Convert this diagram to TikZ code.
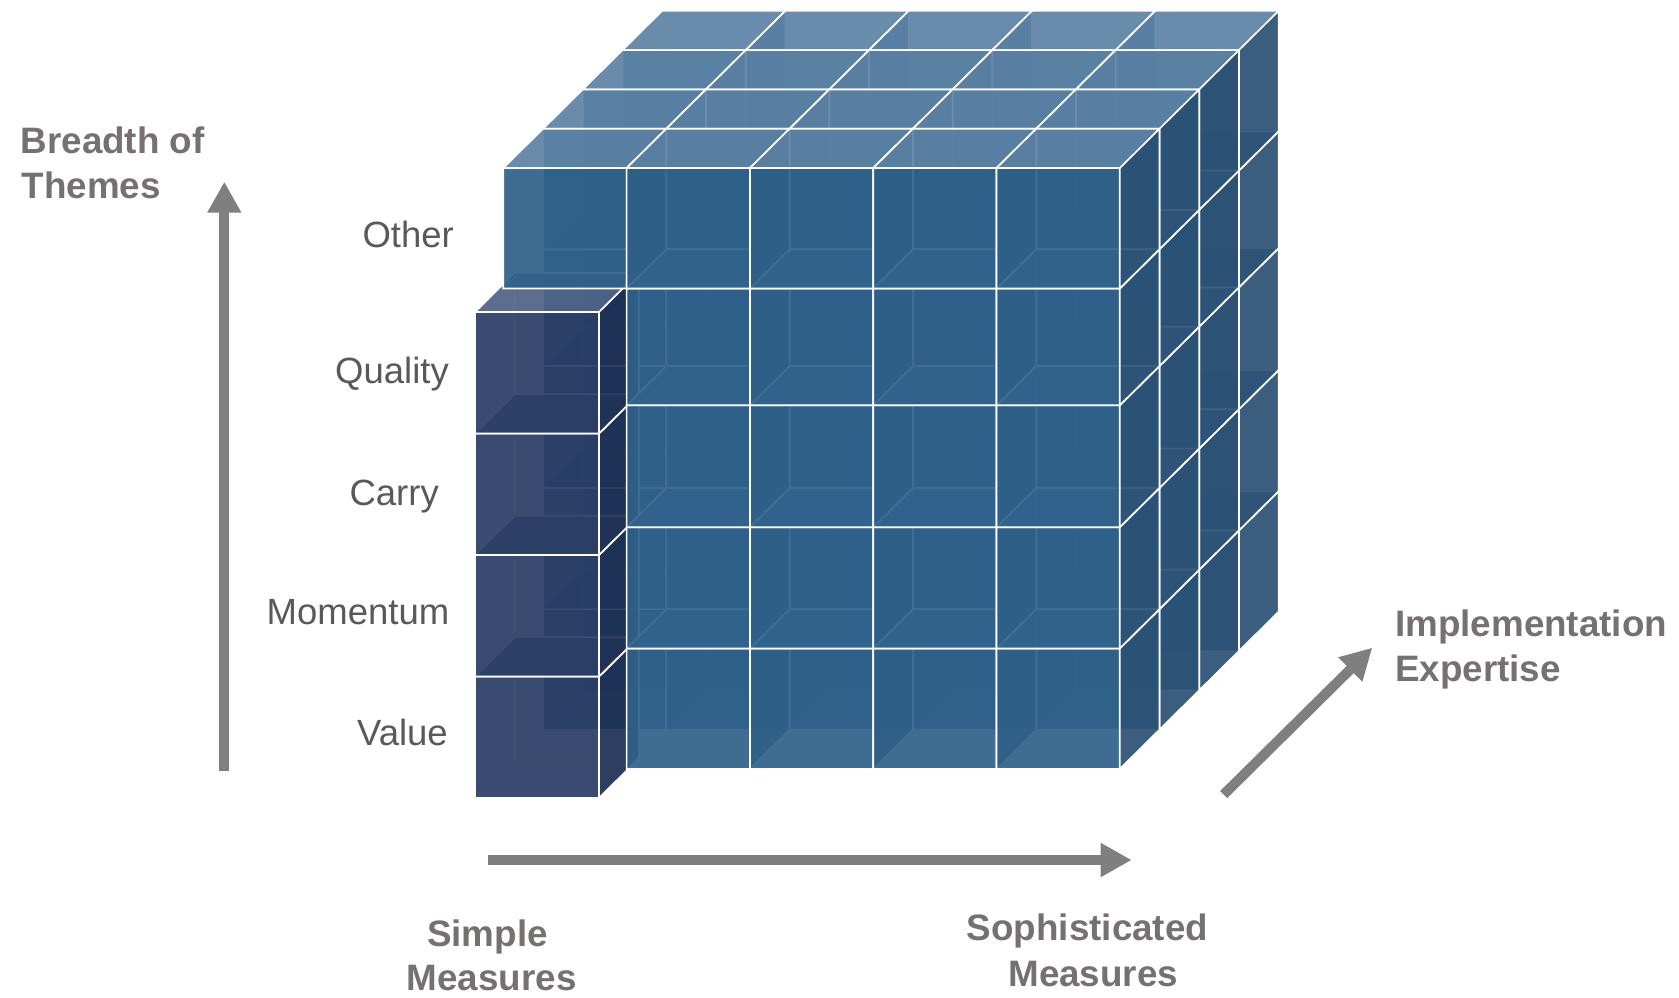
\documentclass[tikz,border=0pt]{standalone}
\usepackage{fontspec}
\setmainfont{Liberation Sans}
\usetikzlibrary{arrows.meta}

% face colours of the translucent blocks
\definecolor{bfront}{HTML}{2E6089}
\definecolor{btop}{HTML}{5E84A6}
\definecolor{bright}{HTML}{2A4F73}
\definecolor{bback}{HTML}{3A6A94}
\definecolor{nfront}{HTML}{283C64}
\definecolor{ntop}{HTML}{516388}
\definecolor{nright}{HTML}{1C2E52}
\definecolor{nback}{HTML}{2A3C66}
\definecolor{axisgray}{HTML}{7F7F7F}
\definecolor{labelgray}{HTML}{595959}
\definecolor{titlegray}{HTML}{767171}

% oblique depth vector of one block (screen units, y pointing down)
\def\dpx{39.7}
\def\dpy{-39.3}

% one translucent block: front-top-left x, y, width, height, palette
\newcommand\boxcube[5]{%
  \pgfmathsetmacro\qxa{#1}\pgfmathsetmacro\qya{#2}%
  \pgfmathsetmacro\qxb{#1+#3}\pgfmathsetmacro\qyb{#2+#4}%
  \pgfmathsetmacro\qxc{\qxa+\dpx}\pgfmathsetmacro\qxd{\qxb+\dpx}%
  \pgfmathsetmacro\qyc{\qya+\dpy}\pgfmathsetmacro\qyd{\qyb+\dpy}%
  \coordinate (f1) at (\qxa,\qya); \coordinate (f2) at (\qxb,\qya);
  \coordinate (f3) at (\qxb,\qyb); \coordinate (f4) at (\qxa,\qyb);
  \coordinate (b1) at (\qxc,\qyc); \coordinate (b2) at (\qxd,\qyc);
  \coordinate (b3) at (\qxd,\qyd); \coordinate (b4) at (\qxc,\qyd);
  % far faces
  \fill[#5 back] (b1) -- (b2) -- (b3) -- (b4) -- cycle;
  \fill[#5 back] (f1) -- (b1) -- (b4) -- (f4) -- cycle;
  \fill[#5 back] (f4) -- (f3) -- (b3) -- (b4) -- cycle;
  \draw[hidden edge] (b1) -- (b4) -- (b3) (f4) -- (b4);
  % near faces
  \fill[#5 right] (f2) -- (b2) -- (b3) -- (f3) -- cycle;
  \fill[#5 top] (f1) -- (f2) -- (b2) -- (b1) -- cycle;
  \fill[#5 front] (f1) -- (f2) -- (f3) -- (f4) -- cycle;
  \draw[edge] (f1) -- (f2) -- (f3) -- (f4) -- cycle
              (f1) -- (b1) -- (b2) -- (b3) -- (f3) (f2) -- (b2);
}

\tikzset{
  blue back/.style={fill=bback, fill opacity=0.35},
  blue right/.style={fill=bright, fill opacity=0.88},
  blue top/.style={fill=btop, fill opacity=0.88},
  blue front/.style={fill=bfront, fill opacity=0.88},
  navy back/.style={fill=nback, fill opacity=0.35},
  navy right/.style={fill=nright, fill opacity=0.88},
  navy top/.style={fill=ntop, fill opacity=0.88},
  navy front/.style={fill=nfront, fill opacity=0.88},
  hidden edge/.style={draw=white, draw opacity=0.35, line width=1pt},
  edge/.style={draw=white, line width=1.7pt, line join=miter},
  axisarrow/.style={draw=axisgray, line width=10pt,
    -{Triangle[length=31pt,width=32pt]}},
  rowlabel/.style={anchor=base east, inner sep=0pt, text=labelgray,
    font=\fontsize{36.5}{44}\selectfont},
  axislabel/.style={inner sep=0pt, text=titlegray,
    font=\fontsize{36.8}{45}\selectfont\bfseries},
}

\begin{document}
\begin{tikzpicture}[x=1pt,y=-1pt]
\useasboundingbox (0,0) rectangle (1679,997);

% rear layers of the block, far to near
\foreach \L in {3,2,1}{
  \foreach \r/\yt/\hh in {5/648.4/120.6, 4/527.2/121.2, 3/405.3/121.9,
                          2/288.5/116.8, 1/168/120.5}{
    \foreach \c in {0,...,4}{
      \boxcube{503.3+\c*123.3+\L*\dpx}{\yt+\L*\dpy}{123.3}{\hh}{blue}
    }
  }
}

% column of simple measures, pulled out in front
\foreach \yt in {676.5, 555, 433.5, 312}{
  \boxcube{475}{\yt}{124}{121.5}{navy}
}

% front layer of the block
\foreach \r/\yt/\hh in {5/648.4/120.6, 4/527.2/121.2, 3/405.3/121.9,
                        2/288.5/116.8, 1/168/120.5}{
  \foreach \c in {0,...,4}{
    \pgfmathtruncatemacro\omitcell{(\c==0)&&(\r>1)}
    \ifnum\omitcell=0
      \boxcube{503.3+\c*123.3}{\yt}{123.3}{\hh}{blue}
    \fi
  }
}

% axes
\coordinate (vbase) at (224.3,770.7);
\coordinate (vtip) at (224.3,181.7);
\coordinate (hbase) at (488.3,860);
\coordinate (htip) at (1131.7,860);
\coordinate (dbase) at (1223.7,794.5);
\coordinate (dtip) at (1372.3,647.7);
\draw[axisarrow] (vbase) -- (vtip);
\draw[axisarrow] (hbase) -- (htip);
\draw[axisarrow] (dbase) -- (dtip);

% theme labels
\node[rowlabel] (lother) at (454,247.3) {Other};
\node[rowlabel] (lquality) at (449,383.5) {Quality};
\node[rowlabel] (lcarry) at (439,505) {Carry};
\node[rowlabel] (lmomentum) at (449.5,624) {Momentum};
\node[rowlabel] (lvalue) at (448,745) {Value};

% axis titles
\node[axislabel, anchor=base west] (breadth1) at (20.5,153.3) {Breadth of};
\node[axislabel, anchor=base west] (breadth2) at (21.5,198.3) {Themes};
\node[axislabel, anchor=base] (simple1) at (487.5,946.5) {Simple};
\node[axislabel, anchor=base] (simple2) at (491.7,990.5) {Measures};
\node[axislabel, anchor=base] (soph1) at (1087.5,940.7) {Sophisticated};
\node[axislabel, anchor=base] (soph2) at (1093.3,986.7) {Measures};
\node[axislabel, anchor=base west] (impl1) at (1395,636) {Implementation};
\node[axislabel, anchor=base west] (impl2) at (1395,681) {Expertise};
\end{tikzpicture}
\end{document}
